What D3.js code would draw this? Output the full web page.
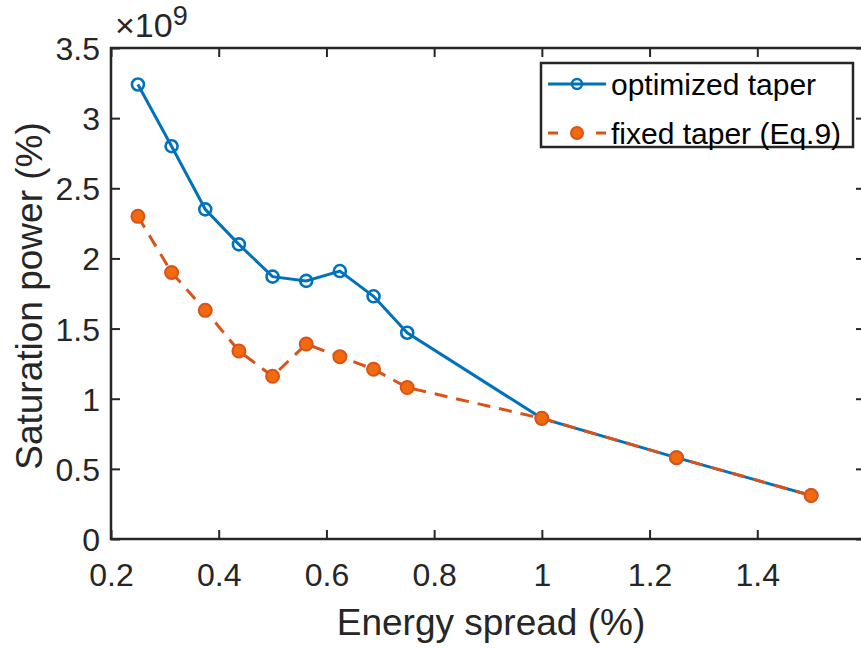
<!DOCTYPE html>
<html>
<head>
<meta charset="utf-8">
<script src="https://cdn.jsdelivr.net/npm/d3@7"></script>
<style>
  html, body { margin: 0; padding: 0; background: #fff; }
  svg { display: block; font-family: 'Liberation Sans', Arial, sans-serif; }
</style>
</head>
<body>
<svg id="chart" width="861" height="648"></svg>
<script>
// energy spread (%)
const spread = [0.25, 0.3125, 0.375, 0.4375, 0.5, 0.5625, 0.625, 0.6875, 0.75, 1.0, 1.25, 1.5]
// saturation power, in units of 1e9
const optimized = [3.24, 2.80, 2.35, 2.10, 1.87, 1.84, 1.91, 1.73, 1.47, 0.86, 0.58, 0.31]
const fixedTaper = [2.30, 1.90, 1.63, 1.34, 1.16, 1.39, 1.30, 1.21, 1.08, 0.86, 0.58, 0.31]

const xTicks = [0.2, 0.4, 0.6, 0.8, 1, 1.2, 1.4, 1.6]
const xTickLabels = [0.2, 0.4, 0.6, 0.8, 1, 1.2, 1.4] // 1.6 falls outside the picture
const yTicks = [0, 0.5, 1, 1.5, 2, 2.5, 3, 3.5]
const seriesNames = ['optimized taper', 'fixed taper (Eq.9)']

const svg = d3.select('#chart')
const ink = '#262626'
const blue = '#0072BD'
const orange = '#D95319'
const orangeFill = '#F26A0E'

const margin = { left: 111, top: 48, right: 865, bottom: 539 }

const x = d3.scaleLinear().domain([0.2, 1.6]).range([margin.left, margin.right])
const y = d3.scaleLinear().domain([0, 3.5]).range([margin.bottom, margin.top])

const tickLen = 9

// axes: ticks inward, labels only bottom/left
const xAxis = svg.append('g')
  .attr('transform', `translate(0,${margin.bottom})`)
  .call(d3.axisBottom(x).tickValues(xTickLabels).tickFormat(d3.format('~g')).tickSizeInner(-tickLen).tickSizeOuter(0).tickPadding(24))
xAxis.select('.domain').remove()
xAxis.selectAll('line').attr('stroke', ink).attr('stroke-width', 2)
xAxis.selectAll('text').attr('fill', ink).attr('font-size', 32)

const yAxis = svg.append('g')
  .attr('transform', `translate(${margin.left},0)`)
  .call(d3.axisLeft(y).tickValues(yTicks).tickFormat(d3.format('~g')).tickSizeInner(-tickLen).tickSizeOuter(0).tickPadding(11))
yAxis.select('.domain').remove()
yAxis.selectAll('line').attr('stroke', ink).attr('stroke-width', 2)
yAxis.selectAll('text').attr('fill', ink).attr('font-size', 32).attr('dy', '0.36em')

// top and right ticks
const topAxis = svg.append('g')
  .attr('transform', `translate(0,${margin.top})`)
  .call(d3.axisTop(x).tickValues(xTicks).tickFormat('').tickSizeInner(-tickLen).tickSizeOuter(0))
topAxis.select('.domain').remove()
topAxis.selectAll('line').attr('stroke', ink).attr('stroke-width', 2)

const rightAxis = svg.append('g')
  .attr('transform', `translate(${margin.right},0)`)
  .call(d3.axisRight(y).tickValues(yTicks).tickFormat('').tickSizeInner(-tickLen).tickSizeOuter(0))
rightAxis.select('.domain').remove()
rightAxis.selectAll('line').attr('stroke', ink).attr('stroke-width', 2)

// box
svg.append('rect')
  .attr('x', margin.left).attr('y', margin.top)
  .attr('width', margin.right - margin.left).attr('height', margin.bottom - margin.top)
  .attr('fill', 'none').attr('stroke', ink).attr('stroke-width', 2.5)

// exponent label
const expo = svg.append('text').attr('x', 115).attr('y', 37).attr('fill', ink).attr('font-size', 34)
expo.append('tspan').text('×10')
expo.append('tspan').attr('font-size', 27).attr('dy', -12).text('9')

// axis titles
svg.append('text')
  .attr('x', 491).attr('y', 635)
  .attr('text-anchor', 'middle').attr('fill', ink).attr('font-size', 37)
  .text('Energy spread (%)')

svg.append('text')
  .attr('transform', `translate(42,296) rotate(-90)`)
  .attr('text-anchor', 'middle').attr('fill', ink).attr('font-size', 37)
  .text('Saturation power (%)')

const line = d3.line().x(d => x(d[0])).y(d => y(d[1]))

const optData = spread.map((s, i) => [s, optimized[i]])
const fixData = spread.map((s, i) => [s, fixedTaper[i]])

// optimized taper
svg.append('path').datum(optData).attr('d', line)
  .attr('fill', 'none').attr('stroke', blue).attr('stroke-width', 3)
svg.append('g').selectAll('circle').data(optData).join('circle')
  .attr('cx', d => x(d[0])).attr('cy', d => y(d[1])).attr('r', 6)
  .attr('fill', 'none').attr('stroke', blue).attr('stroke-width', 2.6)

// fixed taper
svg.append('path').datum(fixData).attr('d', line)
  .attr('fill', 'none').attr('stroke', orange).attr('stroke-width', 3)
  .attr('stroke-dasharray', '13,9')
svg.append('g').selectAll('circle').data(fixData).join('circle')
  .attr('cx', d => x(d[0])).attr('cy', d => y(d[1])).attr('r', 6.5)
  .attr('fill', orangeFill).attr('stroke', orange).attr('stroke-width', 2)

// legend
const lg = svg.append('g')
lg.append('rect').attr('x', 541).attr('y', 63).attr('width', 312).attr('height', 84)
  .attr('fill', '#fff').attr('stroke', ink).attr('stroke-width', 2.5)

const rows = [84, 133]
lg.append('line').attr('x1', 548).attr('x2', 606).attr('y1', rows[0]).attr('y2', rows[0])
  .attr('stroke', blue).attr('stroke-width', 3)
lg.append('circle').attr('cx', 577).attr('cy', rows[0]).attr('r', 5)
  .attr('fill', 'none').attr('stroke', blue).attr('stroke-width', 2.4)
lg.append('line').attr('x1', 548).attr('x2', 606).attr('y1', rows[1]).attr('y2', rows[1])
  .attr('stroke', orange).attr('stroke-width', 3).attr('stroke-dasharray', '10,14')
lg.append('circle').attr('cx', 577).attr('cy', rows[1]).attr('r', 6)
  .attr('fill', orangeFill).attr('stroke', orange).attr('stroke-width', 2)

seriesNames.forEach((name, i) => {
  lg.append('text').attr('x', 611).attr('y', rows[i]).attr('dy', '0.36em')
    .attr('fill', '#000').attr('font-size', 30).text(name)
})
</script>
</body>
</html>
